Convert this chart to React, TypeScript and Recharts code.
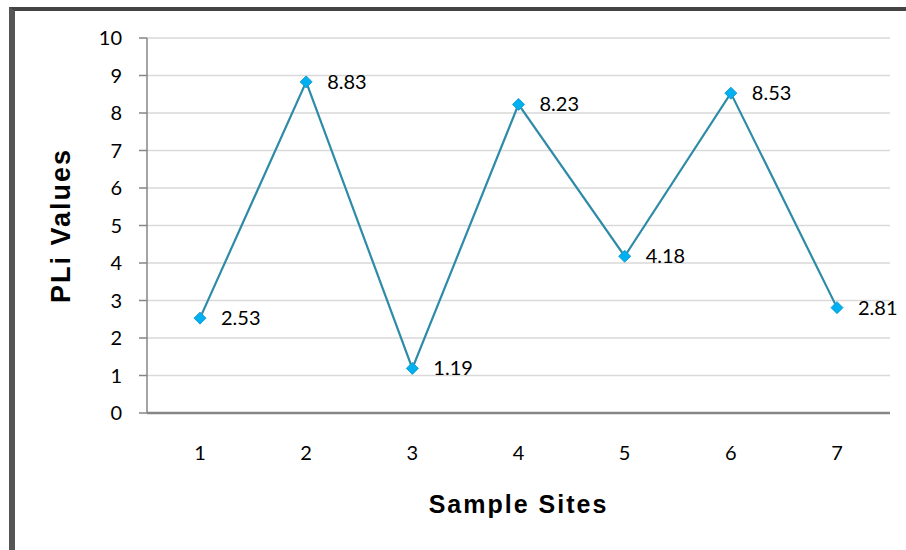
import React from "react";
import {
  LineChart,
  Line,
  XAxis,
  YAxis,
  CartesianGrid,
  LabelList,
  Label,
} from "recharts";

const sites = ["1", "2", "3", "4", "5", "6", "7"];
const pliValues = [2.53, 8.83, 1.19, 8.23, 4.18, 8.53, 2.81];
const yTicks = [0, 1, 2, 3, 4, 5, 6, 7, 8, 9, 10];

const data = sites.map((s, i) => ({ site: s, pli: pliValues[i] }));

const FONT = "Lato, 'Open Sans', sans-serif";
const BOLD_FONT = "'Liberation Sans', Arial, sans-serif";

// diamond marker like the excel one
const Diamond = (props: any) => {
  const { cx, cy } = props;
  if (cx == null || cy == null) return null;
  const r = 6;
  return (
    <polygon
      points={`${cx},${cy - r} ${cx + r},${cy} ${cx},${cy + r} ${cx - r},${cy}`}
      fill="#00b0f0"
      stroke="#1a9fd0"
      strokeWidth={1}
    />
  );
};

export default function App() {
  return (
    <div
      style={{
        position: "absolute",
        left: 0,
        top: 0,
        width: 906,
        height: 550,
        background: "#fff",
      }}
    >
      {/* frame like the scanned figure */}
      <div
        style={{
          position: "absolute",
          left: 9,
          top: 7,
          right: 0,
          bottom: 0,
          borderLeft: "6px solid #555",
          borderTop: "4px solid #444",
        }}
      />
      <LineChart
        width={906}
        height={550}
        data={data}
        margin={{ top: 38, right: 16, left: 10, bottom: 27 }}
        style={{ position: "absolute", left: 0, top: 0 }}
      >
        <CartesianGrid vertical={false} stroke="#d9d9d9" strokeWidth={1.3} />
        <XAxis
          dataKey="site"
          height={110}
          padding={{ left: 53, right: 53 }}
          tickLine={false}
          tickSize={0}
          tickMargin={33}
          axisLine={{ stroke: "#868686", strokeWidth: 2.5 }}
          tick={{ fill: "#000", fontSize: 20, fontFamily: FONT }}
        >
          <Label
            value="Sample Sites"
            position="insideBottom"
            offset={10}
            style={{
              fontSize: 25,
              fontWeight: "bold",
              fontFamily: BOLD_FONT,
              letterSpacing: 2,
              fill: "#000",
            }}
          />
        </XAxis>
        <YAxis
          width={137}
          domain={[0, 10]}
          ticks={yTicks}
          interval={0}
          tickSize={8}
          tickMargin={17}
          axisLine={{ stroke: "#868686", strokeWidth: 1.5 }}
          tickLine={{ stroke: "#868686", strokeWidth: 1.5 }}
          tick={{ fill: "#000", fontSize: 20, fontFamily: FONT }}
        >
          <Label
            value="PLi Values"
            angle={-90}
            position="insideLeft"
            offset={50}
            textAnchor="middle"
            style={{
              fontSize: 27,
              fontWeight: "bold",
              fontFamily: BOLD_FONT,
              letterSpacing: 2,
              fill: "#000",
              textAnchor: "middle",
            }}
          />
        </YAxis>
        {/* right edge of the plot box */}
        <YAxis
          yAxisId="frame"
          orientation="right"
          width={0}
          domain={[0, 10]}
          tick={false}
          tickLine={false}
          axisLine={{ stroke: "#bfbfbf", strokeWidth: 1.5 }}
        />
        <Line
          type="linear"
          dataKey="pli"
          stroke="#2e8ba8"
          strokeWidth={2.2}
          dot={<Diamond />}
          activeDot={false}
          isAnimationActive={false}
        >
          <LabelList
            dataKey="pli"
            position="right"
            offset={21}
            style={{ fill: "#000", fontSize: 20, fontFamily: FONT }}
          />
        </Line>
      </LineChart>
    </div>
  );
}
